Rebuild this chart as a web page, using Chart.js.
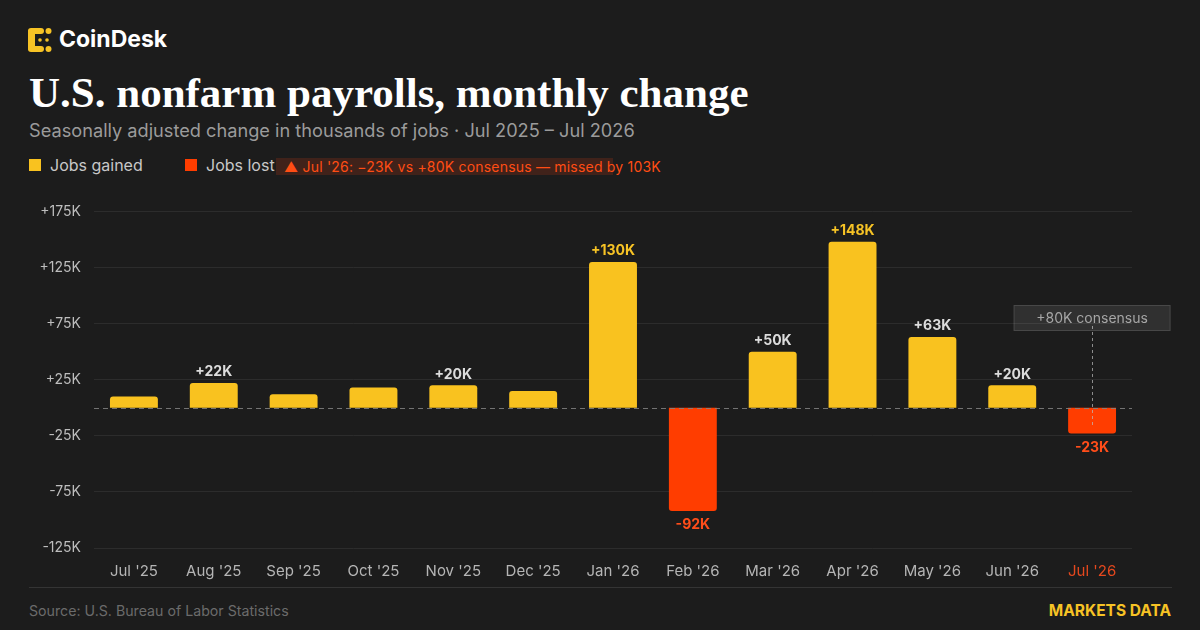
<!DOCTYPE html>
<html>
<head>
<meta charset="utf-8">
<script src="https://cdn.jsdelivr.net/npm/chart.js@4.4.1/dist/chart.umd.min.js"></script>
<style>
  html, body { margin: 0; padding: 0; }
  body { width: 1200px; height: 630px; background: #1c1c1c; position: relative; overflow: hidden; font-family: Inter, "Noto Sans", sans-serif; }
  .abs { position: absolute; white-space: nowrap; }
  #logoText { left: 59px; top: 28px; font-size: 23px; line-height: 23px; font-weight: 700; color: #fff; }
  #title { left: 29px; top: 71px; font-family: "Liberation Serif", serif; font-weight: 700; font-size: 43px; line-height: 43px; color: #fff; }
  #subtitle { left: 29px; top: 121px; font-size: 18.2px; line-height: 18px; color: #9b9b9b; }
  .sw { width: 12px; height: 12px; top: 159px; }
  .lg { top: 157px; font-size: 16px; line-height: 16px; color: #c8c8c8; }
  #chip { left: 276px; top: 158px; width: 337px; height: 17px; background: rgba(255, 70, 20, 0.16); }
  #chipText { left: 284px; top: 158px; font-size: 14px; line-height: 17px; color: #ff4d14; letter-spacing: 0.2px; }
  #chartBox { position: absolute; left: 0; top: 190px; width: 1200px; height: 400px; }
  #sep { left: 29px; top: 587px; width: 1143px; height: 1px; background: #343434; }
  #source { left: 29px; top: 603px; font-size: 14.2px; line-height: 16px; color: #6b6b6b; }
  #brand { right: 29px; top: 602px; font-size: 15.5px; line-height: 18px; font-weight: 700; color: #f7c325; }
</style>
</head>
<body>
  <svg class="abs" style="left:28px;top:28px" width="24" height="24" viewBox="0 0 24 24">
    <g fill="#f7c325">
      <rect x="0" y="1" width="7" height="22" rx="3"/>
      <rect x="0" y="0" width="16" height="6" rx="3"/>
      <rect x="0" y="18" width="16" height="6" rx="3"/>
      <circle cx="20.5" cy="3" r="3"/>
      <circle cx="20.5" cy="21" r="3"/>
      <circle cx="12" cy="12" r="1.8"/>
      <circle cx="19" cy="12" r="1.8"/>
    </g>
  </svg>
  <div id="logoText" class="abs">CoinDesk</div>
  <div id="title" class="abs">U.S. nonfarm payrolls, monthly change</div>
  <div id="subtitle" class="abs">Seasonally adjusted change in thousands of jobs · Jul 2025 – Jul 2026</div>

  <div class="abs sw" style="left:29px;background:#f9c21f"></div>
  <div class="abs lg" style="left:50px">Jobs gained</div>
  <div class="abs sw" style="left:185px;background:#ff3d00"></div>
  <div class="abs lg" style="left:206px">Jobs lost</div>
  <div id="chip" class="abs"></div>
  <div id="chipText" class="abs">▲ Jul '26: −23K vs +80K consensus — missed by 103K</div>

  <div id="chartBox"><canvas id="payrollChart"></canvas></div>

  <div id="sep" class="abs"></div>
  <div id="source" class="abs">Source: U.S. Bureau of Labor Statistics</div>
  <div id="brand" class="abs">MARKETS DATA</div>

<script>
// Monthly change in nonfarm payrolls, thousands of jobs
const months = ["Jul '25", "Aug '25", "Sep '25", "Oct '25", "Nov '25", "Dec '25",
                "Jan '26", "Feb '26", "Mar '26", "Apr '26", "May '26", "Jun '26", "Jul '26"];
const jobsChange = [10, 22, 12, 18, 20, 15, 130, -92, 50, 148, 63, 20, -23];
const yTicks = [-125, -75, -25, 25, 75, 125, 175];
const consensus = 80;
const consensusIndex = months.length - 1;

const GAIN = '#f9c21f';
const LOSS = '#ff3d00';

function fmtK(v) {
  return (v > 0 ? '+' : '') + v + 'K';
}

// Value labels above / below bars, zero line and the consensus marker
const overlayPlugin = {
  id: 'overlay',
  afterDatasetsDraw(chart) {
    const ctx = chart.ctx;
    const area = chart.chartArea;
    const x = chart.scales.x;
    const y = chart.scales.y;
    const meta = chart.getDatasetMeta(0);

    // dashed zero line
    ctx.save();
    ctx.strokeStyle = 'rgba(130,130,130,0.85)';
    ctx.lineWidth = 1;
    ctx.setLineDash([5, 4]);
    const y0 = Math.round(y.getPixelForValue(0)) + 0.5;
    ctx.beginPath();
    ctx.moveTo(area.left, y0);
    ctx.lineTo(area.right, y0);
    ctx.stroke();
    ctx.restore();

    // bar value labels
    ctx.save();
    ctx.font = '700 14px Inter, sans-serif';
    ctx.textAlign = 'center';
    meta.data.forEach((bar, i) => {
      const v = jobsChange[i];
      if (Math.abs(v) < 20) return;
      if (v < 0) {
        ctx.fillStyle = '#ff4d1a';
        ctx.textBaseline = 'top';
        ctx.fillText(fmtK(v), bar.x, bar.y + 7);
      } else {
        ctx.fillStyle = v >= 100 ? '#f7c325' : '#dcdcdc';
        ctx.textBaseline = 'bottom';
        ctx.fillText(fmtK(v), bar.x, bar.y - 4);
      }
    });
    ctx.restore();

    // consensus marker for the latest month
    const cx = x.getPixelForValue(consensusIndex);
    const cy = y.getPixelForValue(consensus);
    const barEnd = y.getPixelForValue(jobsChange[consensusIndex]);
    ctx.save();
    ctx.strokeStyle = 'rgba(190,190,190,0.7)';
    ctx.lineWidth = 1;
    ctx.setLineDash([3, 3]);
    ctx.beginPath();
    ctx.moveTo(Math.round(cx) + 0.5, cy + 8);
    ctx.lineTo(Math.round(cx) + 0.5, barEnd - 6);
    ctx.stroke();
    ctx.setLineDash([]);
    const bw = 157, bh = 26;
    ctx.fillStyle = 'rgba(255,255,255,0.09)';
    ctx.fillRect(cx - bw / 2, cy - bh / 2, bw, bh);
    ctx.strokeStyle = 'rgba(255,255,255,0.12)';
    ctx.strokeRect(cx - bw / 2 + 0.5, cy - bh / 2 + 0.5, bw - 1, bh - 1);
    ctx.fillStyle = '#a6a6a6';
    ctx.font = '14px Inter, sans-serif';
    ctx.textAlign = 'center';
    ctx.textBaseline = 'middle';
    ctx.fillText('+' + consensus + 'K consensus', cx, cy + 1);
    ctx.restore();
  }
};

const chartCtx = document.getElementById('payrollChart').getContext('2d');
new Chart(chartCtx, {
  type: 'bar',
  data: {
    labels: months,
    datasets: [{
      label: 'Jobs change',
      data: jobsChange,
      backgroundColor: jobsChange.map(v => (v >= 0 ? GAIN : LOSS)),
      borderRadius: 3,
      borderSkipped: 'start',
      categoryPercentage: 0.6,
      barPercentage: 1.0
    }]
  },
  options: {
    responsive: true,
    maintainAspectRatio: false,
    animation: false,
    layout: { padding: { top: 11, right: 68, left: 0, bottom: 0 } },
    plugins: {
      legend: { display: false },
      tooltip: { enabled: false }
    },
    scales: {
      x: {
        grid: { display: false, drawTicks: false },
        border: { display: false },
        ticks: {
          padding: 14,
          font: { family: 'Inter', size: 15 },
          color: c => (c.index === consensusIndex ? '#e5481e' : '#b5b5b5')
        },
        afterFit: scale => { scale.height = 42; }
      },
      y: {
        min: -125,
        max: 175,
        afterBuildTicks: scale => { scale.ticks = yTicks.map(v => ({ value: v })); },
        grid: { color: '#2c2c2c', lineWidth: 1, drawTicks: false },
        border: { display: false },
        ticks: {
          padding: 13,
          font: { family: 'Inter', size: 14 },
          color: '#bdbdbd',
          callback: v => fmtK(v)
        },
        afterFit: scale => { scale.width = 94; }
      }
    }
  },
  plugins: [overlayPlugin]
});
</script>
</body>
</html>
